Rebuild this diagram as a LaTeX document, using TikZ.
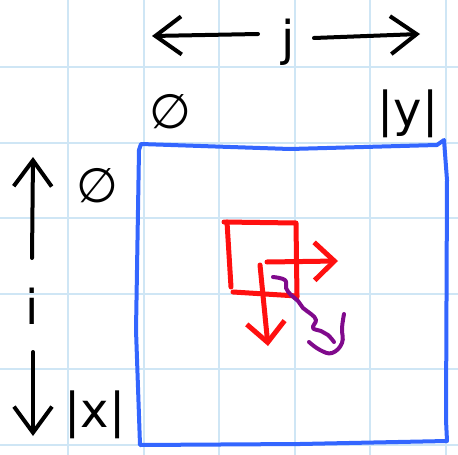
\documentclass[tikz,border=0pt]{standalone}
\usepackage{fontspec}
\setmainfont{DejaVu Sans}
\usetikzlibrary{arrows.meta}
\definecolor{gridc}{HTML}{CFE6F5}
\definecolor{boxc}{HTML}{3366FF}
\definecolor{redc}{HTML}{FF1010}
\definecolor{purc}{HTML}{800A8C}
\begin{document}
\begin{tikzpicture}[x=1pt,y=-1pt,
 gridline/.style={gridc,line width=2pt},
 ink/.style={black,line width=4pt,line cap=round,line join=round},
 bhead/.style={-{Straight Barb[length=26pt,width=38pt]}},
 rhead/.style={-{Straight Barb[length=20pt,width=38pt]}},
 lbl/.style={inner sep=0pt,font=\fontsize{48}{48}\selectfont},
 boxline/.style={boxc,line width=4pt,line join=round,line cap=round},
 redline/.style={redc,line width=5pt,line cap=round,line join=round},
 squig/.style={purc,line width=4pt,line cap=round,line join=round}]
\useasboundingbox (0,0) rectangle (458,455);
\foreach \x in {68,143.5,219,294.5,370,445.5} \draw[gridline] (\x,0) -- (\x,455);
\foreach \y in {67,143,218,294,369,445} \draw[gridline] (0,\y) -- (458,\y);
% labels
\node[lbl] (j) at (288,42) {j};
\node[lbl] (z1) at (170,112) {∅};
\node[lbl] (y) at (408,114) {|y|};
\node[lbl] (z2) at (97,186) {∅};
\node[lbl] (i) at (32,306) {i};
\node[lbl] (x) at (95,415) {|x|};
% arrow ends
\coordinate (jl0) at (258,34);
\coordinate (jl1) at (152,36);
\coordinate (jr0) at (314,38);
\coordinate (jr1) at (420,34);
\coordinate (iu0) at (32,258);
\coordinate (iu1) at (33,157);
\coordinate (id0) at (33,352);
\coordinate (id1) at (33,436);
\draw[ink,bhead] (jl0) -- (jl1);
\draw[ink,bhead] (jr0) -- (jr1);
\draw[ink,bhead] (iu0) -- (iu1);
\draw[ink,bhead] (id0) -- (id1);
% blue matrix box
\draw[boxline] (141,144) -- (290,149) -- (437,145) -- (444,140) -- (447,180)
  -- (446,420) -- (447,441) -- (300,444) -- (140,445) -- (136,330) -- (139,150) -- cycle;
% red cell with arrows
\draw[redline] (224,222) -- (296,223) -- (297,297);
\draw[redline] (227,222) -- (231,287);
\draw[redline] (233,292) -- (297,296);
\coordinate (ra0) at (267,262);
\coordinate (ra1) at (338,261);
\coordinate (rd0) at (260,265);
\coordinate (rd1) at (268,346);
\draw[redline,rhead] (ra0) -- (ra1);
\draw[redline,rhead] (rd0) -- (rd1);
% purple squiggle
\draw[squig] plot[smooth,tension=0.7] coordinates {(273,277) (285,280) (286,288) (291,295) (298,301) (303,308) (311,314) (316,320) (313,328) (321,331) (328,335) (334,342)};
\draw[squig] plot[smooth,tension=0.7] coordinates {(309,342) (320,350) (332,353) (342,343) (342,328) (344,314)};
\end{tikzpicture}
\end{document}
